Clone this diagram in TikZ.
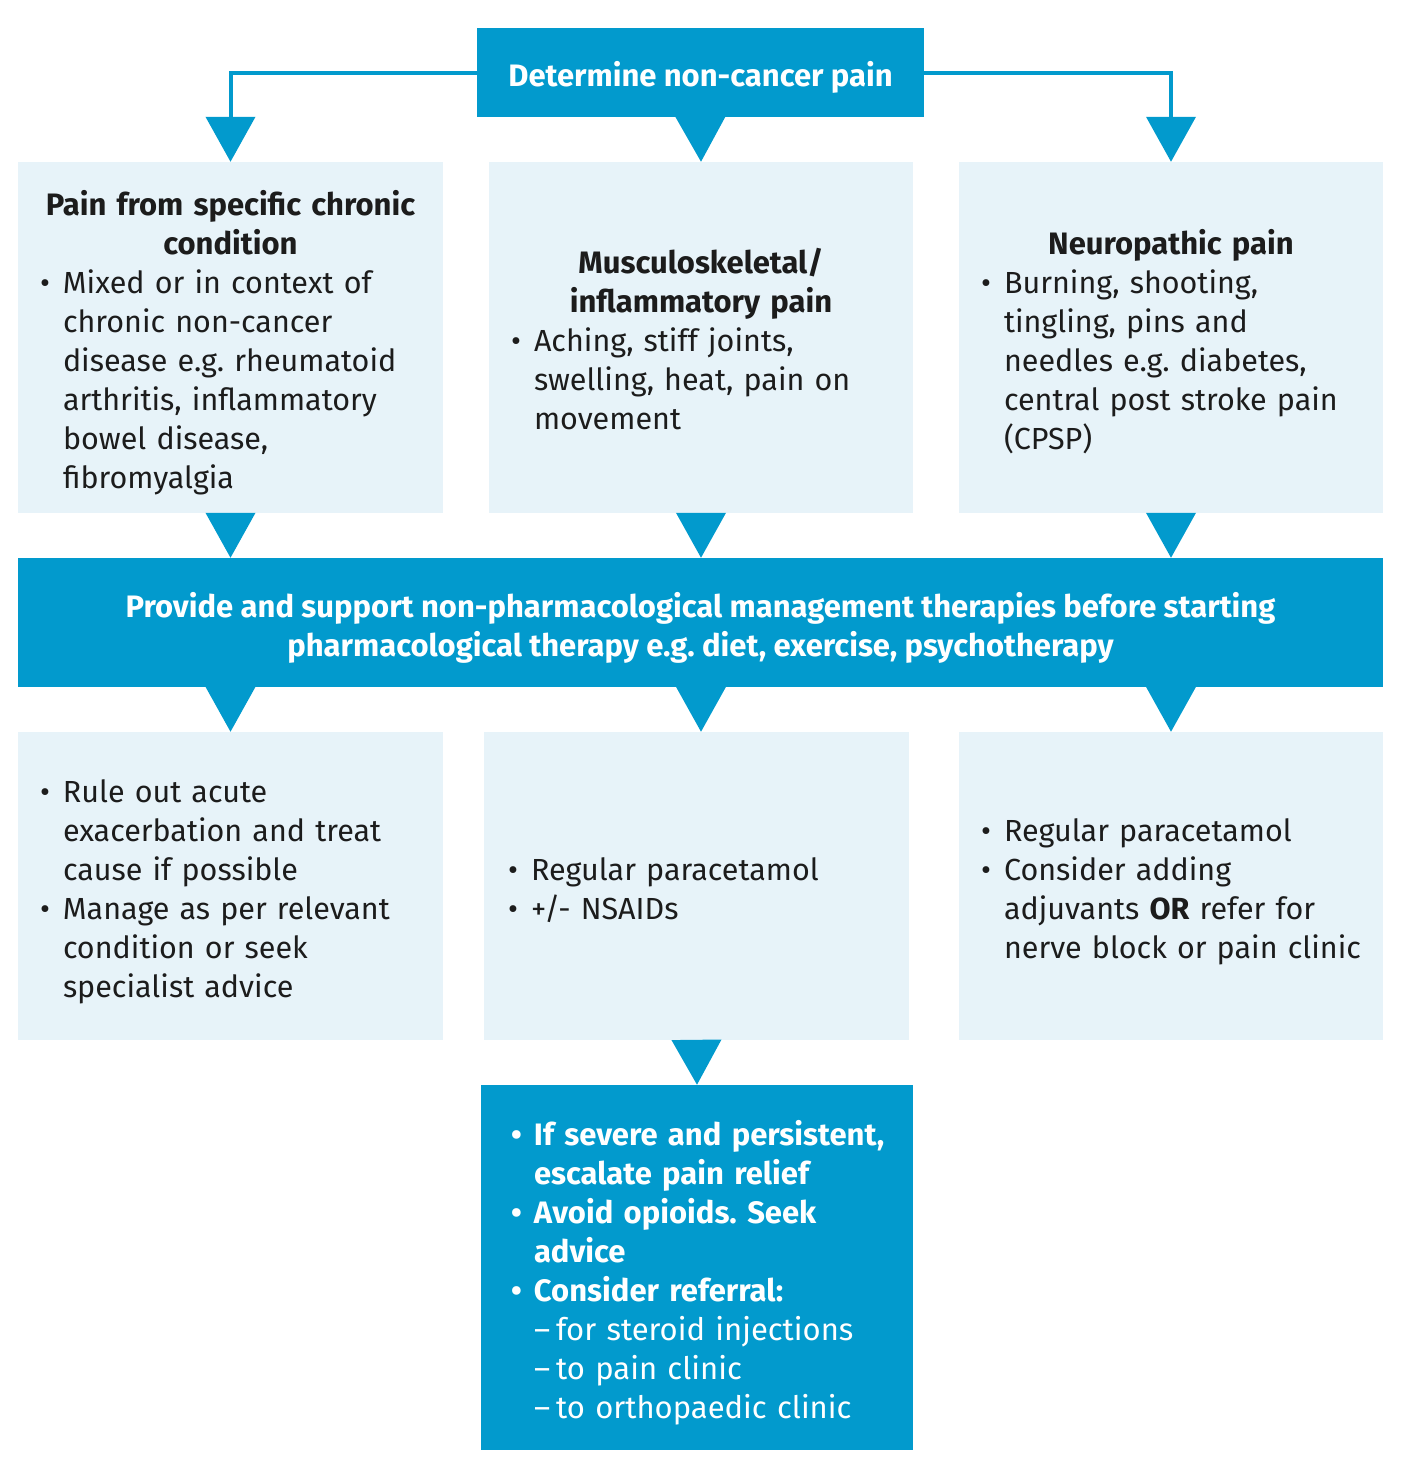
\documentclass[tikz,border=0pt]{standalone}
\usepackage{fontspec}
\setmainfont{Fira Sans}
\usetikzlibrary{arrows.meta}
\frenchspacing
\hbadness=10000
\hfuzz=200pt
\definecolor{fblue}{RGB}{2,154,205}
\definecolor{flight}{RGB}{231,243,249}
\definecolor{ftext}{RGB}{28,28,28}
\newcommand\topst{\rule{0pt}{38pt}}
\newcommand\botst{\rule[-10pt]{0pt}{10pt}}
\newcommand\bfsz{\fontsize{31}{39}\selectfont\bfseries}
\newcommand\bl[1]{\makebox[23pt][l]{•}\mbox{#1}}
\newcommand\ct[1]{\hspace*{23pt}\mbox{#1}}
\newcommand\hd[1]{\leavevmode\hbox to \hsize{\hss\bfsz #1\hss}}
\tikzset{
  every node/.style={font=\fontsize{30.5}{39}\selectfont},
  lbox/.style={fill=flight, text=ftext, align=left, inner xsep=22pt, inner ysep=0pt,
    minimum width=425pt, text width=381pt},
  bbox/.style={fill=fblue, text=white, inner sep=0pt, font=\bfsz},
  conn/.style={draw=fblue, line width=4pt, -{Triangle[length=45pt,width=49pt]}},
}
\begin{document}
\begin{tikzpicture}[x=1pt,y=-1pt]
\useasboundingbox (0,0) rectangle (1402,1476);
% top
\node[bbox, minimum width=447pt, minimum height=89pt] (top) at (700.5,72.5) {\topst Determine non-cancer pain\botst};
% row 1
\node[lbox, minimum height=351pt] (r1l) at (230.5,337.5) {%
\hd{\topst Pain from specific chronic}\\
\hd{condition}\\
\bl{Mixed or in context of}\\
\ct{chronic non-cancer}\\
\ct{disease e.g. rheumatoid}\\
\ct{arthritis, inflammatory}\\
\ct{bowel disease,}\\
\ct{fibromyalgia\botst}};
\node[lbox, minimum height=351pt, minimum width=424pt, text width=380pt] (r1m) at (701,337.5) {%
\hd{\topst Musculoskeletal/}\\
\hd{inflammatory pain}\\
\bl{Aching, stiff joints,}\\
\ct{swelling, heat, pain on}\\
\ct{movement\botst}};
\node[lbox, minimum height=351pt, minimum width=424pt, text width=380pt] (r1r) at (1171,337.5) {%
\hd{\topst Neuropathic pain}\\
\bl{Burning, shooting,}\\
\ct{tingling, pins and}\\
\ct{needles e.g. diabetes,}\\
\ct{central post stroke pain}\\
\ct{(CPSP)\botst}};
% big box
\node[bbox, minimum width=1365pt, minimum height=129pt, align=center] (big) at (700.5,622.5) {\topst Provide and support non-pharmacological management therapies before starting\\pharmacological therapy e.g. diet, exercise, psychotherapy\botst};
% row 2
\node[lbox, minimum height=308pt] (r2l) at (230.5,886) {%
\bl{\topst Rule out acute}\\
\ct{exacerbation and treat}\\
\ct{cause if possible}\\
\bl{Manage as per relevant}\\
\ct{condition or seek}\\
\ct{specialist advice\botst}};
\node[lbox, minimum height=308pt, inner xsep=24pt, text width=377pt] (r2m) at (696.5,886) {%
\bl{\topst Regular paracetamol}\\
\bl{+/- NSAIDs\botst}};
\node[lbox, minimum height=308pt, minimum width=424pt, text width=380pt] (r2r) at (1171,886) {%
\bl{\topst Regular paracetamol}\\
\bl{Consider adding}\\
\ct{adjuvants \textbf{OR} refer for}\\
\ct{nerve block or pain clinic\botst}};
% bottom
\node[bbox, minimum width=432pt, minimum height=365pt, inner xsep=30pt, text width=372pt, align=left] (bot) at (697,1267.5) {%
\bl{\topst If severe and persistent,}\\
\ct{escalate pain relief}\\
\bl{Avoid opioids. Seek}\\
\ct{advice}\\
\bl{Consider referral:}\\
\ct{\mdseries–\hspace{6pt}for steroid injections}\\
\ct{\mdseries–\hspace{6pt}to pain clinic}\\
\ct{\mdseries–\hspace{6pt}to orthopaedic clinic\botst}};
% connectors
\draw[conn] (top.west) -| (r1l.north);
\draw[conn] (top.east) -| (r1r.north);
\draw[conn] (top.south) -- (r1m.north);
\draw[conn] (r1l.south) -- (big.north -| r1l.south);
\draw[conn] (r1m.south) -- (big.north -| r1m.south);
\draw[conn] (r1r.south) -- (big.north -| r1r.south);
\draw[conn] (big.south -| r1l.south) -- (r2l.north);
\draw[conn] (big.south -| r1m.south) -- (r2m.north -| r1m.south);
\draw[conn] (big.south -| r1r.south) -- (r2r.north -| r1r.south);
\draw[conn] (r2m.south) -- (bot.north);
\end{tikzpicture}
\end{document}
